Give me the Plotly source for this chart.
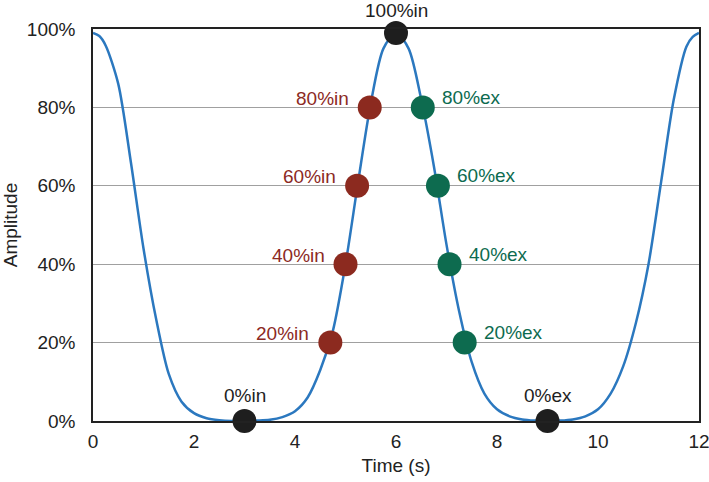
import plotly.graph_objects as go

# Curve samples (time in s, amplitude 0..1)
curve_t = [0, 0.125, 0.25, 0.5, 0.75, 1.0, 1.25, 1.5, 1.75, 2.0, 2.25, 2.5, 2.75, 3.0,
           3.25, 3.5, 3.75, 4.0, 4.25, 4.5, 4.75, 5.0, 5.25, 5.5, 5.75, 6.0,
           6.25, 6.5, 6.75, 7.0, 7.25, 7.5, 7.75, 8.0, 8.25, 8.5, 8.75, 9.0,
           9.25, 9.5, 9.75, 10.0, 10.25, 10.5, 10.75, 11.0, 11.25, 11.5, 11.75, 11.875, 12.0]
curve_y = [0.99, 0.982, 0.958, 0.86, 0.66, 0.44, 0.26, 0.12, 0.05, 0.02, 0.007, 0.002, 0.0, 0.0,
           0.001, 0.003, 0.01, 0.025, 0.06, 0.13, 0.23, 0.40, 0.61, 0.81, 0.95, 0.99,
           0.95, 0.82, 0.65, 0.45, 0.28, 0.15, 0.07, 0.03, 0.012, 0.004, 0.001, 0.0,
           0.001, 0.004, 0.012, 0.03, 0.07, 0.14, 0.25, 0.40, 0.61, 0.82, 0.955, 0.98, 0.99]

# Inspiration markers (rising edge)
in_t = [4.70, 5.00, 5.23, 5.48]
in_y = [0.20, 0.40, 0.60, 0.80]
in_labels = ["20%in", "40%in", "60%in", "80%in"]

# Expiration markers (falling edge)
ex_t = [7.36, 7.06, 6.83, 6.53]
ex_y = [0.20, 0.40, 0.60, 0.80]
ex_labels = ["20%ex", "40%ex", "60%ex", "80%ex"]

# Extreme markers
ext_t = [3.0, 6.0, 9.0]
ext_y = [0.0, 0.99, 0.0]
ext_labels = ["0%in", "100%in", "0%ex"]

x_ticks = [0, 2, 4, 6, 8, 10, 12]
y_ticks = [0, 0.2, 0.4, 0.6, 0.8, 1.0]
y_tick_labels = ["0%", "20%", "40%", "60%", "80%", "100%"]

RED = "#8c2a1f"
GREEN = "#0d6b4f"
BLACK = "#1e1e1e"
BLUE = "#2b78bf"
FONT = "Arial, Liberation Sans, sans-serif"

fig = go.Figure()
fig.add_trace(go.Scatter(x=curve_t, y=curve_y, mode="lines",
                         line=dict(color=BLUE, width=2.5, shape="spline", smoothing=0.8),
                         hoverinfo="skip", cliponaxis=False))
fig.add_trace(go.Scatter(x=in_t, y=in_y, mode="markers",
                         marker=dict(color=RED, size=24), cliponaxis=False))
fig.add_trace(go.Scatter(x=ex_t, y=ex_y, mode="markers",
                         marker=dict(color=GREEN, size=24), cliponaxis=False))
fig.add_trace(go.Scatter(x=ext_t, y=ext_y, mode="markers",
                         marker=dict(color=BLACK, size=24), cliponaxis=False))

for t, y, lab in zip(in_t, in_y, in_labels):
    fig.add_annotation(x=t, y=y, text=lab, showarrow=False, xanchor="right",
                       yanchor="middle", xshift=-19, yshift=9,
                       font=dict(color=RED, size=19, family=FONT))
for t, y, lab in zip(ex_t, ex_y, ex_labels):
    fig.add_annotation(x=t, y=y, text=lab, showarrow=False, xanchor="left",
                       yanchor="middle", xshift=17, yshift=10,
                       font=dict(color=GREEN, size=19, family=FONT))
for t, y, lab in zip(ext_t, ext_y, ext_labels):
    fig.add_annotation(x=t, y=y, text=lab, showarrow=False, xanchor="center",
                       yanchor="middle", yshift=26 if y < 0.5 else 22,
                       font=dict(color=BLACK, size=19, family=FONT))

fig.update_layout(
    width=709, height=482,
    margin=dict(l=93, r=10, t=29, b=61),
    plot_bgcolor="white", paper_bgcolor="white",
    showlegend=False,
    font=dict(family=FONT, size=19, color="#222222"),
)
fig.update_xaxes(range=[0, 12], tickvals=x_ticks, showgrid=False, zeroline=False,
                 automargin=False, ticklabeloverflow="allow",
                 showline=True, mirror=True, linecolor="#222222", linewidth=1.5,
                 ticks="outside", ticklen=2, tickcolor="rgba(0,0,0,0)",
                 title=dict(text="Time (s)", standoff=8, font=dict(size=19)))
fig.update_yaxes(range=[0, 1], tickvals=y_ticks, ticktext=y_tick_labels,
                 automargin=False,
                 showgrid=True, gridcolor="#a0a0a0", gridwidth=1, zeroline=False,
                 showline=True, mirror=True, linecolor="#222222", linewidth=1.5,
                 ticks="outside", ticklen=12, tickcolor="rgba(0,0,0,0)",
                 title=dict(text="Amplitude", standoff=4, font=dict(size=19)))

fig.write_html("out.html", config={"displayModeBar": False},
               post_script="document.body.style.margin='0';document.body.style.overflow='hidden';")
